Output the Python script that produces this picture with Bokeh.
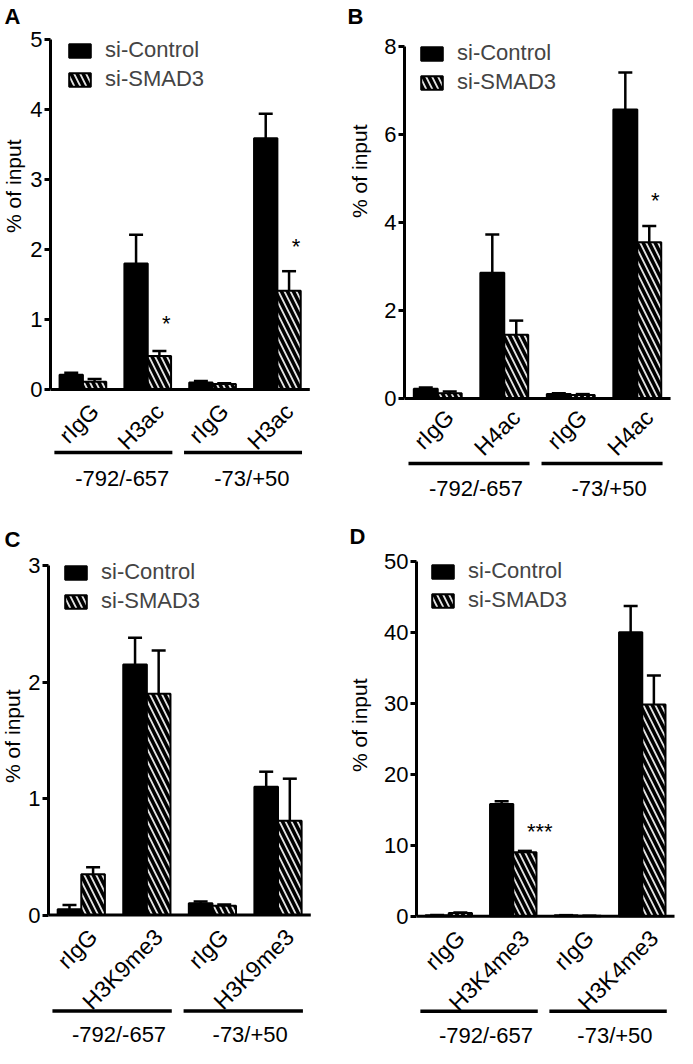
import math
from bokeh.plotting import figure
from bokeh.models import ColumnDataSource, FixedTicker, Legend, LegendItem, Range1d, Title
from bokeh.layouts import column, row
from bokeh.embed import file_html
from bokeh.resources import INLINE
from bokeh.core.properties import value

FONT = "Liberation Sans"

# ---------------- data ----------------
group_labels = ["-792/-657", "-73/+50"]
series_names = ["si-Control", "si-SMAD3"]

a_targets = ["rIgG", "H3ac", "rIgG", "H3ac"]
a_ctrl = [0.21, 1.80, 0.10, 3.59]
a_ctrl_err = [0.03, 0.41, 0.02, 0.35]
a_smad = [0.11, 0.48, 0.08, 1.41]
a_smad_err = [0.04, 0.07, 0.01, 0.28]
a_yticks = [0, 1, 2, 3, 4, 5]
a_stars = ["*", "*"]
a_star_bar = [1, 3]
a_star_y = [1.0, 2.1]

b_targets = ["rIgG", "H4ac", "rIgG", "H4ac"]
b_ctrl = [0.22, 2.86, 0.10, 6.57]
b_ctrl_err = [0.03, 0.87, 0.02, 0.84]
b_smad = [0.12, 1.45, 0.08, 3.55]
b_smad_err = [0.04, 0.32, 0.02, 0.37]
b_yticks = [0, 2, 4, 6, 8]
b_stars = ["*"]
b_star_bar = [3]
b_star_y = [4.6]

c_targets = ["rIgG", "H3K9me3", "rIgG", "H3K9me3"]
c_ctrl = [0.05, 2.15, 0.10, 1.10]
c_ctrl_err = [0.035, 0.23, 0.015, 0.13]
c_smad = [0.35, 1.90, 0.08, 0.81]
c_smad_err = [0.06, 0.37, 0.01, 0.36]
c_yticks = [0, 1, 2, 3]
c_stars = []
c_star_bar = []
c_star_y = []

d_targets = ["rIgG", "H3K4me3", "rIgG", "H3K4me3"]
d_ctrl = [0.12, 15.8, 0.12, 40.0]
d_ctrl_err = [0.05, 0.4, 0.03, 3.7]
d_smad = [0.45, 9.0, 0.05, 29.8]
d_smad_err = [0.06, 0.2, 0.02, 4.1]
d_yticks = [0, 10, 20, 30, 40, 50]
d_stars = ["***"]
d_star_bar = [1]
d_star_y = [13.1]

panels = [
    dict(letter="A", targets=a_targets, ctrl=a_ctrl, ctrl_err=a_ctrl_err, smad=a_smad, smad_err=a_smad_err,
         yticks=a_yticks, stars=a_stars, star_bar=a_star_bar, star_y=a_star_y),
    dict(letter="B", targets=b_targets, ctrl=b_ctrl, ctrl_err=b_ctrl_err, smad=b_smad, smad_err=b_smad_err,
         yticks=b_yticks, stars=b_stars, star_bar=b_star_bar, star_y=b_star_y),
    dict(letter="C", targets=c_targets, ctrl=c_ctrl, ctrl_err=c_ctrl_err, smad=c_smad, smad_err=c_smad_err,
         yticks=c_yticks, stars=c_stars, star_bar=c_star_bar, star_y=c_star_y),
    dict(letter="D", targets=d_targets, ctrl=d_ctrl, ctrl_err=d_ctrl_err, smad=d_smad, smad_err=d_smad_err,
         yticks=d_yticks, stars=d_stars, star_bar=d_star_bar, star_y=d_star_y),
]

# ---------------- layout (pixels, figure coordinates) ----------------
geo = {
    "A": dict(w=338, h=516, top=30, let_so=0, left=47, ppx=65.5, zero=389, ppu=70.0,
              tick_dx=12, tick_dy=18, line_dy=63, glab_dy=89, glab_dx=7,
              leg_x=16, leg_top=41, let_x=1, lab_off=109, lab_so=2, star_dx=7, star_dy=4),
    "B": dict(w=339, h=516, top=30, let_so=0, left=64, ppx=67.0, zero=398, ppu=44.0,
              tick_dx=12, tick_dy=15, line_dy=65, glab_dx=5, glab_dy=90,
              leg_x=14, leg_top=44, let_x=7, lab_off=94, lab_so=18, star_dx=6, star_dy=4),
    "C": dict(w=338, h=532, top=40, let_so=6, left=45, ppx=66.25, zero=398.5, ppu=116.5,
              tick_dx=12, tick_dy=18, line_dy=96, glab_dx=5, glab_dy=119,
              leg_x=14, leg_top=47, let_x=1, lab_off=133, lab_so=0, star_dx=0, star_dy=4),
    "D": dict(w=339, h=532, top=40, let_so=12, left=76, ppx=65.0, zero=399.7, ppu=7.1,
              tick_dx=12, tick_dy=18, line_dy=95, glab_dx=5, glab_dy=119,
              leg_x=13, leg_top=46, let_x=9, lab_off=122, lab_so=18, star_dx=15, star_dy=8),
}

BAR_W = 0.36
HATCH_FILL = "#e2e2e2"


def make_panel(d, g):
    L, W, H, T = g["left"], g["w"], g["h"], g["top"]
    ppx, ppu, zero = g["ppx"], g["ppu"], g["zero"]
    x_end = (W - L) / ppx
    y_end = (zero - T) / ppu
    y_start = -(H - zero) / ppu
    p = figure(width=W, height=H, x_range=Range1d(0, x_end), y_range=Range1d(y_start, y_end),
               x_axis_location=None, y_axis_location="left", toolbar_location=None,
               output_backend="svg", min_border_left=L, min_border_right=0,
               min_border_top=T, min_border_bottom=0, outline_line_color=None,
               background_fill_color="white", border_fill_color="white")
    p.xgrid.grid_line_color = None
    p.ygrid.grid_line_color = None

    # panel letter
    p.title.text = d["letter"]
    p.title.align = "left"
    p.title.offset = g["let_x"] - L
    p.title.vertical_align = "top"
    p.title.standoff = g["let_so"]
    p.title.text_font = FONT
    p.title.text_font_size = "22px"
    p.title.text_font_style = "bold"
    p.title.text_color = "black"

    n = len(d["targets"])
    centers = [i + 0.5 for i in range(n)]
    xc = [c - BAR_W / 2 for c in centers]
    xs = [c + BAR_W / 2 for c in centers]

    src_c = ColumnDataSource(dict(x=xc, top=d["ctrl"], up=[v + e for v, e in zip(d["ctrl"], d["ctrl_err"])]))
    src_s = ColumnDataSource(dict(x=xs, top=d["smad"], up=[v + e for v, e in zip(d["smad"], d["smad_err"])]))

    for src in (src_c, src_s):
        p.segment(x0="x", y0="top", x1="x", y1="up", source=src, line_color="black", line_width=2.5)
        p.scatter(x="x", y="up", source=src, marker="dash", size=14, line_color="black", line_width=2.5)

    r_c = p.vbar(x="x", top="top", bottom=0, width=BAR_W, source=src_c,
                 fill_color="black", line_color="black", line_width=2)
    r_s = p.vbar(x="x", top="top", bottom=0, width=BAR_W, source=src_s,
                 fill_color=HATCH_FILL, line_color="black", line_width=2,
                 hatch_pattern="\\", hatch_color="black", hatch_scale=12, hatch_weight=3.5)

    # x baseline
    p.segment(x0=[0], y0=[0], x1=[n], y1=[0], line_color="black", line_width=3)

    # y axis
    ax = p.yaxis[0]
    ax.bounds = (d["yticks"][0], d["yticks"][-1])
    ax.ticker = FixedTicker(ticks=d["yticks"])
    ax.minor_tick_line_color = None
    ax.major_tick_out = 6
    ax.major_tick_in = 0
    ax.major_tick_line_width = 3
    ax.axis_line_width = 3
    ax.major_label_standoff = 2
    ax.major_label_text_font = FONT
    ax.major_label_text_font_size = "22px"
    ax.major_label_text_color = "black"

    # y axis title, placed level with the axis itself
    p.add_layout(Title(text="% of input", align="right", offset=g["lab_off"],
                       vertical_align="top", standoff=g["lab_so"], text_font=FONT,
                       text_font_size="21px", text_font_style="normal", text_color="black"), "left")

    # rotated category labels
    tsrc = ColumnDataSource(dict(x=[c + g["tick_dx"] / ppx for c in centers],
                                 y=[-g["tick_dy"] / ppu] * n, text=d["targets"]))
    p.text(x="x", y="y", text="text", source=tsrc, angle=math.pi / 4,
           text_align="right", text_baseline="middle",
           text_font=value(FONT), text_font_size="23px", text_color="black")

    # group underlines and labels
    ng = len(group_labels)
    per = n // ng
    gx0 = [gi * per + 0.06 for gi in range(ng)]
    gx1 = [(gi + 1) * per - 0.12 for gi in range(ng)]
    gy = [-g["line_dy"] / ppu] * ng
    p.segment(x0=gx0, y0=gy, x1=gx1, y1=gy, line_color="black", line_width=3.5)
    gsrc = ColumnDataSource(dict(x=[gi * per + per / 2 + g["glab_dx"] / ppx for gi in range(ng)],
                                 y=[-g["glab_dy"] / ppu] * ng, text=group_labels))
    p.text(x="x", y="y", text="text", source=gsrc, text_align="center", text_baseline="middle",
           text_font=value(FONT), text_font_size="22px", text_color="black")

    if d["stars"]:
        ssrc = ColumnDataSource(dict(x=[xs[b] + g["star_dx"] / ppx for b in d["star_bar"]],
                                     y=[v - g["star_dy"] / ppu for v in d["star_y"]], text=d["stars"]))
        p.text(x="x", y="y", text="text", source=ssrc, text_align="center", text_baseline="middle",
               text_font=value(FONT), text_font_size="22px", text_color="black")

    leg_h = 51
    legend = Legend(items=[LegendItem(label=series_names[0], renderers=[r_c]),
                           LegendItem(label=series_names[1], renderers=[r_s])],
                    location=(g["leg_x"], H - g["leg_top"] - leg_h),
                    glyph_width=27, glyph_height=17, label_standoff=12, spacing=3,
                    padding=0, margin=0, border_line_color=None, background_fill_alpha=0,
                    label_text_font=FONT, label_text_font_size="22px")
    p.add_layout(legend)
    return p


figs = [make_panel(d, geo[d["letter"]]) for d in panels]
layout = column(row(figs[0], figs[1]), row(figs[2], figs[3]))
open("out.html", "w").write(file_html(layout, INLINE))
